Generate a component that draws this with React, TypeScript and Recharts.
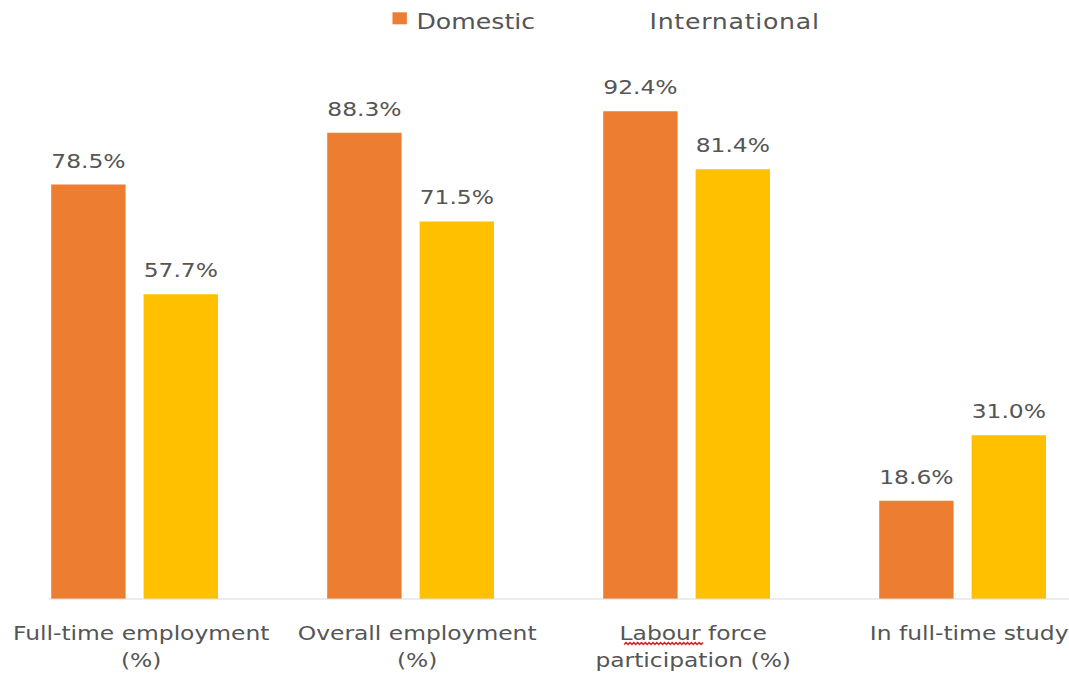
import React from 'react';
import { BarChart, Bar, XAxis, YAxis, LabelList } from 'recharts';

const categories = [
  'Full-time employment (%)',
  'Overall employment (%)',
  'Labour force participation (%)',
  'In full-time study',
];
const tickLines = [
  ['Full-time employment', '(%)'],
  ['Overall employment', '(%)'],
  ['Labour force', 'participation (%)'],
  ['In full-time study'],
];
const domestic = [78.5, 88.3, 92.4, 18.6];
const international = [57.7, 71.5, 81.4, 31.0];
const seriesNames = ['Domestic', 'International'];
const seriesColors = ['#ED7D31', '#FFC000'];

const data = categories.map((c, i) => ({
  name: c,
  domestic: domestic[i],
  international: international[i],
}));

const TEXT = '#555555';
const FONT = '"DejaVu Sans", Verdana, sans-serif';
const SX = 1.2;

const CustomTick = (props: any) => {
  const { x, y, payload } = props;
  const idx = categories.indexOf(payload.value);
  const lines = tickLines[idx] || [payload.value];
  const cx = x + 6;
  const els: any[] = [];
  lines.forEach((ln, i) => {
    els.push(
      <text key={'t' + i} x={cx} y={y + 41 + i * 27} textAnchor="middle" fill={TEXT} fontSize={19.5} fontFamily={FONT}>
        {ln}
      </text>
    );
  });
  if (lines[0] === 'Labour force') {
    const start = cx - 57.5;
    const end = start + 66;
    let d = `M${start},${y + 45.5}`;
    let up = true;
    for (let px = start + 1.6; px <= end; px += 1.6) {
      d += ` L${px},${y + (up ? 43.5 : 45.5)}`;
      up = !up;
    }
    els.push(<path key="sq" d={d} stroke="#E02020" strokeWidth={1.3} fill="none" />);
  }
  return <g>{els}</g>;
};

const renderLabel = (props: any) => {
  const { x, y, width, value } = props;
  return (
    <text x={x + width / 2} y={y - 17} textAnchor="middle" fill={TEXT} fontSize={19.5} fontFamily={FONT}>
      {Number(value).toFixed(1) + '%'}
    </text>
  );
};

export default function App() {
  return (
    <div style={{ position: 'absolute', left: 0, top: 0, width: 1069, height: 675, overflow: 'hidden', background: '#fff' }}>
      <div
        style={{
          position: 'absolute',
          left: -4.5,
          top: 0,
          width: 920,
          height: 675,
          transform: `scaleX(${SX})`,
          transformOrigin: '0 0',
        }}
      >
        <svg width={920} height={50} style={{ position: 'absolute', left: 0, top: 0 }}>
          <rect x={330.4} y={12.3} width={12} height={12} fill={seriesColors[0]} />
          <text x={350.4} y={29.5} fill={TEXT} fontSize={21} fontFamily={FONT}>
            {seriesNames[0]}
          </text>
          <text x={544.6} y={29.5} fill={TEXT} fontSize={21} fontFamily={FONT} letterSpacing={0.6}>
            {seriesNames[1]}
          </text>
        </svg>
        <BarChart
          width={920}
          height={675}
          data={data}
          margin={{ top: 71, right: 0, bottom: 0, left: 0 }}
          barCategoryGap="20%"
          barGap={15}
        >
          <YAxis hide domain={[0, 100]} />
          <XAxis
            dataKey="name"
            height={76}
            interval={0}
            tickLine={false}
            tickSize={0}
            tickMargin={0}
            axisLine={{ stroke: '#D9D9D9', strokeDasharray: '0 44 5000' }}
            tick={<CustomTick />}
          />
          <Bar dataKey="domestic" name={seriesNames[0]} fill={seriesColors[0]} isAnimationActive={false}>
            <LabelList dataKey="domestic" content={renderLabel} />
          </Bar>
          <Bar dataKey="international" name={seriesNames[1]} fill={seriesColors[1]} isAnimationActive={false}>
            <LabelList dataKey="international" content={renderLabel} />
          </Bar>
        </BarChart>
      </div>
    </div>
  );
}
